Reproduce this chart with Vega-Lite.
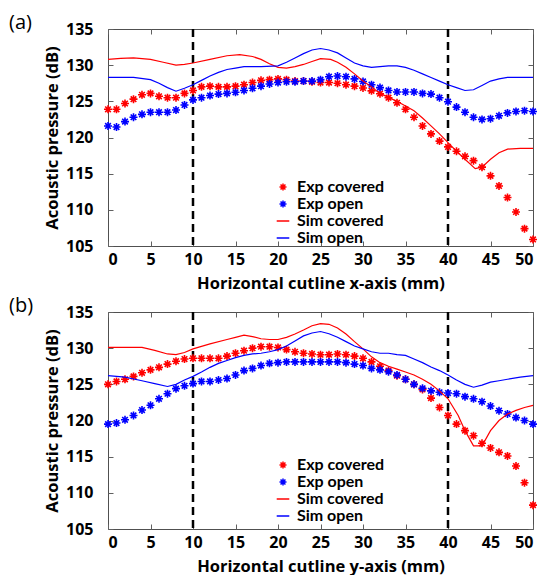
{
  "$schema": "https://vega.github.io/schema/vega-lite/v6.json",
  "background": "white",
  "padding": {"left": 8, "top": 12, "right": 6, "bottom": 0},
  "spacing": 3,
  "datasets": {
    "a_exp": [
      {"x":0,"v":123.9,"s":"Exp covered"},{"x":1,"v":123.9,"s":"Exp covered"},{"x":2,"v":124.7,"s":"Exp covered"},{"x":3,"v":125.3,"s":"Exp covered"},{"x":4,"v":125.9,"s":"Exp covered"},{"x":5,"v":126.1,"s":"Exp covered"},{"x":6,"v":125.7,"s":"Exp covered"},{"x":7,"v":125.5,"s":"Exp covered"},{"x":8,"v":125.5,"s":"Exp covered"},{"x":9,"v":126.1,"s":"Exp covered"},{"x":10,"v":126.5,"s":"Exp covered"},{"x":11,"v":127.0,"s":"Exp covered"},{"x":12,"v":127.1,"s":"Exp covered"},{"x":13,"v":127.0,"s":"Exp covered"},{"x":14,"v":127.0,"s":"Exp covered"},{"x":15,"v":127.1,"s":"Exp covered"},{"x":16,"v":127.3,"s":"Exp covered"},{"x":17,"v":127.6,"s":"Exp covered"},{"x":18,"v":127.9,"s":"Exp covered"},{"x":19,"v":128.0,"s":"Exp covered"},{"x":20,"v":128.1,"s":"Exp covered"},{"x":21,"v":128.0,"s":"Exp covered"},{"x":22,"v":127.8,"s":"Exp covered"},{"x":23,"v":127.8,"s":"Exp covered"},{"x":24,"v":127.7,"s":"Exp covered"},{"x":25,"v":127.6,"s":"Exp covered"},{"x":26,"v":127.6,"s":"Exp covered"},{"x":27,"v":127.5,"s":"Exp covered"},{"x":28,"v":127.3,"s":"Exp covered"},{"x":29,"v":127.1,"s":"Exp covered"},{"x":30,"v":126.85,"s":"Exp covered"},{"x":31,"v":126.45,"s":"Exp covered"},{"x":32,"v":126.05,"s":"Exp covered"},{"x":33,"v":125.5,"s":"Exp covered"},{"x":34,"v":124.8,"s":"Exp covered"},{"x":35,"v":123.9,"s":"Exp covered"},{"x":36,"v":122.8,"s":"Exp covered"},{"x":37,"v":121.6,"s":"Exp covered"},{"x":38,"v":120.5,"s":"Exp covered"},{"x":39,"v":119.5,"s":"Exp covered"},{"x":40,"v":118.7,"s":"Exp covered"},{"x":41,"v":118.1,"s":"Exp covered"},{"x":42,"v":117.4,"s":"Exp covered"},{"x":43,"v":116.8,"s":"Exp covered"},{"x":44,"v":115.9,"s":"Exp covered"},{"x":45,"v":114.7,"s":"Exp covered"},{"x":46,"v":113.3,"s":"Exp covered"},{"x":47,"v":111.7,"s":"Exp covered"},{"x":48,"v":109.7,"s":"Exp covered"},{"x":49,"v":107.4,"s":"Exp covered"},{"x":50,"v":105.9,"s":"Exp covered"},
      {"x":0,"v":121.6,"s":"Exp open"},{"x":1,"v":121.45,"s":"Exp open"},{"x":2,"v":122.2,"s":"Exp open"},{"x":3,"v":122.8,"s":"Exp open"},{"x":4,"v":123.2,"s":"Exp open"},{"x":5,"v":123.5,"s":"Exp open"},{"x":6,"v":123.5,"s":"Exp open"},{"x":7,"v":123.5,"s":"Exp open"},{"x":8,"v":123.8,"s":"Exp open"},{"x":9,"v":124.5,"s":"Exp open"},{"x":10,"v":125.2,"s":"Exp open"},{"x":11,"v":125.5,"s":"Exp open"},{"x":12,"v":125.8,"s":"Exp open"},{"x":13,"v":126.0,"s":"Exp open"},{"x":14,"v":126.1,"s":"Exp open"},{"x":15,"v":126.25,"s":"Exp open"},{"x":16,"v":126.5,"s":"Exp open"},{"x":17,"v":126.8,"s":"Exp open"},{"x":18,"v":127.1,"s":"Exp open"},{"x":19,"v":127.4,"s":"Exp open"},{"x":20,"v":127.6,"s":"Exp open"},{"x":21,"v":127.7,"s":"Exp open"},{"x":22,"v":127.7,"s":"Exp open"},{"x":23,"v":127.8,"s":"Exp open"},{"x":24,"v":127.8,"s":"Exp open"},{"x":25,"v":128.0,"s":"Exp open"},{"x":26,"v":128.4,"s":"Exp open"},{"x":27,"v":128.5,"s":"Exp open"},{"x":28,"v":128.4,"s":"Exp open"},{"x":29,"v":128.1,"s":"Exp open"},{"x":30,"v":127.75,"s":"Exp open"},{"x":31,"v":127.3,"s":"Exp open"},{"x":32,"v":126.9,"s":"Exp open"},{"x":33,"v":126.5,"s":"Exp open"},{"x":34,"v":126.3,"s":"Exp open"},{"x":35,"v":126.3,"s":"Exp open"},{"x":36,"v":126.3,"s":"Exp open"},{"x":37,"v":126.1,"s":"Exp open"},{"x":38,"v":126.0,"s":"Exp open"},{"x":39,"v":125.5,"s":"Exp open"},{"x":40,"v":124.95,"s":"Exp open"},{"x":41,"v":124.2,"s":"Exp open"},{"x":42,"v":123.5,"s":"Exp open"},{"x":43,"v":122.8,"s":"Exp open"},{"x":44,"v":122.5,"s":"Exp open"},{"x":45,"v":122.6,"s":"Exp open"},{"x":46,"v":123.0,"s":"Exp open"},{"x":47,"v":123.4,"s":"Exp open"},{"x":48,"v":123.6,"s":"Exp open"},{"x":49,"v":123.7,"s":"Exp open"},{"x":50,"v":123.6,"s":"Exp open"}
    ],
    "a_sim": [
      {"x":0,"v":130.8,"s":"Sim covered"},{"x":1.5,"v":130.95,"s":"Sim covered"},{"x":3,"v":131.0,"s":"Sim covered"},{"x":5,"v":130.8,"s":"Sim covered"},{"x":6.5,"v":130.4,"s":"Sim covered"},{"x":8,"v":130.0,"s":"Sim covered"},{"x":9,"v":130.1,"s":"Sim covered"},{"x":10,"v":130.3,"s":"Sim covered"},{"x":12,"v":130.8,"s":"Sim covered"},{"x":14,"v":131.3,"s":"Sim covered"},{"x":15.5,"v":131.45,"s":"Sim covered"},{"x":17,"v":131.2,"s":"Sim covered"},{"x":18,"v":130.8,"s":"Sim covered"},{"x":19,"v":130.2,"s":"Sim covered"},{"x":20,"v":129.7,"s":"Sim covered"},{"x":21,"v":129.6,"s":"Sim covered"},{"x":22,"v":129.8,"s":"Sim covered"},{"x":23,"v":130.1,"s":"Sim covered"},{"x":24,"v":130.5,"s":"Sim covered"},{"x":25,"v":130.9,"s":"Sim covered"},{"x":26.2,"v":130.8,"s":"Sim covered"},{"x":27,"v":130.4,"s":"Sim covered"},{"x":28,"v":129.7,"s":"Sim covered"},{"x":29,"v":128.8,"s":"Sim covered"},{"x":30,"v":127.8,"s":"Sim covered"},{"x":31,"v":127.0,"s":"Sim covered"},{"x":32,"v":126.1,"s":"Sim covered"},{"x":34,"v":125.0,"s":"Sim covered"},{"x":36,"v":123.7,"s":"Sim covered"},{"x":37,"v":122.7,"s":"Sim covered"},{"x":38,"v":121.6,"s":"Sim covered"},{"x":39,"v":120.5,"s":"Sim covered"},{"x":40,"v":119.3,"s":"Sim covered"},{"x":41,"v":118.1,"s":"Sim covered"},{"x":42,"v":117.0,"s":"Sim covered"},{"x":43.2,"v":115.7,"s":"Sim covered"},{"x":44,"v":115.9,"s":"Sim covered"},{"x":45,"v":117.0,"s":"Sim covered"},{"x":46,"v":117.9,"s":"Sim covered"},{"x":47,"v":118.4,"s":"Sim covered"},{"x":48.5,"v":118.5,"s":"Sim covered"},{"x":50,"v":118.5,"s":"Sim covered"},
      {"x":0,"v":128.3,"s":"Sim open"},{"x":3,"v":128.3,"s":"Sim open"},{"x":5,"v":128.0,"s":"Sim open"},{"x":6,"v":127.5,"s":"Sim open"},{"x":7,"v":126.9,"s":"Sim open"},{"x":8,"v":126.4,"s":"Sim open"},{"x":9,"v":126.8,"s":"Sim open"},{"x":10,"v":127.3,"s":"Sim open"},{"x":11,"v":127.9,"s":"Sim open"},{"x":12,"v":128.5,"s":"Sim open"},{"x":13,"v":129.0,"s":"Sim open"},{"x":14,"v":129.4,"s":"Sim open"},{"x":15,"v":129.6,"s":"Sim open"},{"x":16,"v":129.8,"s":"Sim open"},{"x":18,"v":129.8,"s":"Sim open"},{"x":20,"v":129.9,"s":"Sim open"},{"x":21,"v":130.4,"s":"Sim open"},{"x":22,"v":131.0,"s":"Sim open"},{"x":23,"v":131.6,"s":"Sim open"},{"x":24,"v":132.1,"s":"Sim open"},{"x":25,"v":132.3,"s":"Sim open"},{"x":26,"v":132.1,"s":"Sim open"},{"x":27,"v":131.7,"s":"Sim open"},{"x":28,"v":131.0,"s":"Sim open"},{"x":29,"v":130.3,"s":"Sim open"},{"x":30,"v":129.9,"s":"Sim open"},{"x":31,"v":129.7,"s":"Sim open"},{"x":32,"v":129.8,"s":"Sim open"},{"x":33,"v":129.9,"s":"Sim open"},{"x":34,"v":129.9,"s":"Sim open"},{"x":35,"v":129.7,"s":"Sim open"},{"x":36,"v":129.3,"s":"Sim open"},{"x":37,"v":128.8,"s":"Sim open"},{"x":38,"v":128.3,"s":"Sim open"},{"x":39,"v":127.8,"s":"Sim open"},{"x":40,"v":127.3,"s":"Sim open"},{"x":41,"v":126.9,"s":"Sim open"},{"x":42,"v":126.5,"s":"Sim open"},{"x":43,"v":126.6,"s":"Sim open"},{"x":44,"v":127.2,"s":"Sim open"},{"x":45,"v":127.8,"s":"Sim open"},{"x":46,"v":128.1,"s":"Sim open"},{"x":47,"v":128.3,"s":"Sim open"},{"x":50,"v":128.3,"s":"Sim open"}
    ],
    "b_exp": [
      {"x":0,"v":125.0,"s":"Exp covered"},{"x":1,"v":125.4,"s":"Exp covered"},{"x":2,"v":125.7,"s":"Exp covered"},{"x":3,"v":126.1,"s":"Exp covered"},{"x":4,"v":126.6,"s":"Exp covered"},{"x":5,"v":127.0,"s":"Exp covered"},{"x":6,"v":127.35,"s":"Exp covered"},{"x":7,"v":127.8,"s":"Exp covered"},{"x":8,"v":128.2,"s":"Exp covered"},{"x":9,"v":128.5,"s":"Exp covered"},{"x":10,"v":128.6,"s":"Exp covered"},{"x":11,"v":128.6,"s":"Exp covered"},{"x":12,"v":128.6,"s":"Exp covered"},{"x":13,"v":128.6,"s":"Exp covered"},{"x":14,"v":128.9,"s":"Exp covered"},{"x":15,"v":129.3,"s":"Exp covered"},{"x":16,"v":129.65,"s":"Exp covered"},{"x":17,"v":130.0,"s":"Exp covered"},{"x":18,"v":130.2,"s":"Exp covered"},{"x":19,"v":130.2,"s":"Exp covered"},{"x":20,"v":130.1,"s":"Exp covered"},{"x":21,"v":129.8,"s":"Exp covered"},{"x":22,"v":129.5,"s":"Exp covered"},{"x":23,"v":129.3,"s":"Exp covered"},{"x":24,"v":129.2,"s":"Exp covered"},{"x":25,"v":129.1,"s":"Exp covered"},{"x":26,"v":129.1,"s":"Exp covered"},{"x":27,"v":129.2,"s":"Exp covered"},{"x":28,"v":129.1,"s":"Exp covered"},{"x":29,"v":128.9,"s":"Exp covered"},{"x":30,"v":128.6,"s":"Exp covered"},{"x":31,"v":128.1,"s":"Exp covered"},{"x":32,"v":127.5,"s":"Exp covered"},{"x":33,"v":126.9,"s":"Exp covered"},{"x":34,"v":126.2,"s":"Exp covered"},{"x":35,"v":125.7,"s":"Exp covered"},{"x":36,"v":125.0,"s":"Exp covered"},{"x":37,"v":124.3,"s":"Exp covered"},{"x":38,"v":123.1,"s":"Exp covered"},{"x":39,"v":121.8,"s":"Exp covered"},{"x":40,"v":120.7,"s":"Exp covered"},{"x":41,"v":119.5,"s":"Exp covered"},{"x":42,"v":118.6,"s":"Exp covered"},{"x":43,"v":117.9,"s":"Exp covered"},{"x":44,"v":116.85,"s":"Exp covered"},{"x":45,"v":116.2,"s":"Exp covered"},{"x":46,"v":115.6,"s":"Exp covered"},{"x":47,"v":115.1,"s":"Exp covered"},{"x":48,"v":113.7,"s":"Exp covered"},{"x":49,"v":111.4,"s":"Exp covered"},{"x":50,"v":108.3,"s":"Exp covered"},
      {"x":0,"v":119.5,"s":"Exp open"},{"x":1,"v":119.65,"s":"Exp open"},{"x":2,"v":120.1,"s":"Exp open"},{"x":3,"v":120.7,"s":"Exp open"},{"x":4,"v":121.45,"s":"Exp open"},{"x":5,"v":122.1,"s":"Exp open"},{"x":6,"v":123.0,"s":"Exp open"},{"x":7,"v":123.7,"s":"Exp open"},{"x":8,"v":124.4,"s":"Exp open"},{"x":9,"v":124.8,"s":"Exp open"},{"x":10,"v":125.1,"s":"Exp open"},{"x":11,"v":125.4,"s":"Exp open"},{"x":12,"v":125.4,"s":"Exp open"},{"x":13,"v":125.6,"s":"Exp open"},{"x":14,"v":125.8,"s":"Exp open"},{"x":15,"v":126.3,"s":"Exp open"},{"x":16,"v":126.9,"s":"Exp open"},{"x":17,"v":127.2,"s":"Exp open"},{"x":18,"v":127.6,"s":"Exp open"},{"x":19,"v":127.9,"s":"Exp open"},{"x":20,"v":128.0,"s":"Exp open"},{"x":21,"v":128.1,"s":"Exp open"},{"x":22,"v":128.1,"s":"Exp open"},{"x":23,"v":128.1,"s":"Exp open"},{"x":24,"v":128.1,"s":"Exp open"},{"x":25,"v":128.1,"s":"Exp open"},{"x":26,"v":128.1,"s":"Exp open"},{"x":27,"v":128.1,"s":"Exp open"},{"x":28,"v":128.0,"s":"Exp open"},{"x":29,"v":127.8,"s":"Exp open"},{"x":30,"v":127.6,"s":"Exp open"},{"x":31,"v":127.2,"s":"Exp open"},{"x":32,"v":127.0,"s":"Exp open"},{"x":33,"v":126.75,"s":"Exp open"},{"x":34,"v":126.3,"s":"Exp open"},{"x":35,"v":125.7,"s":"Exp open"},{"x":36,"v":125.0,"s":"Exp open"},{"x":37,"v":124.45,"s":"Exp open"},{"x":38,"v":124.1,"s":"Exp open"},{"x":39,"v":123.9,"s":"Exp open"},{"x":40,"v":123.8,"s":"Exp open"},{"x":41,"v":123.7,"s":"Exp open"},{"x":42,"v":123.3,"s":"Exp open"},{"x":43,"v":123.0,"s":"Exp open"},{"x":44,"v":122.6,"s":"Exp open"},{"x":45,"v":122.0,"s":"Exp open"},{"x":46,"v":121.35,"s":"Exp open"},{"x":47,"v":120.9,"s":"Exp open"},{"x":48,"v":120.4,"s":"Exp open"},{"x":49,"v":120.0,"s":"Exp open"},{"x":50,"v":119.5,"s":"Exp open"}
    ],
    "b_sim": [
      {"x":0,"v":130.1,"s":"Sim covered"},{"x":4,"v":130.1,"s":"Sim covered"},{"x":5.5,"v":129.7,"s":"Sim covered"},{"x":7,"v":129.2,"s":"Sim covered"},{"x":8,"v":129.1,"s":"Sim covered"},{"x":9,"v":129.4,"s":"Sim covered"},{"x":10,"v":129.9,"s":"Sim covered"},{"x":12,"v":130.6,"s":"Sim covered"},{"x":14,"v":131.2,"s":"Sim covered"},{"x":15,"v":131.5,"s":"Sim covered"},{"x":16,"v":131.8,"s":"Sim covered"},{"x":17,"v":131.6,"s":"Sim covered"},{"x":18,"v":131.3,"s":"Sim covered"},{"x":19,"v":131.2,"s":"Sim covered"},{"x":20,"v":131.2,"s":"Sim covered"},{"x":21,"v":131.5,"s":"Sim covered"},{"x":22,"v":131.95,"s":"Sim covered"},{"x":23,"v":132.5,"s":"Sim covered"},{"x":24,"v":133.1,"s":"Sim covered"},{"x":25,"v":133.4,"s":"Sim covered"},{"x":26,"v":133.3,"s":"Sim covered"},{"x":27,"v":132.8,"s":"Sim covered"},{"x":28,"v":131.95,"s":"Sim covered"},{"x":29,"v":130.9,"s":"Sim covered"},{"x":30,"v":129.9,"s":"Sim covered"},{"x":31,"v":128.8,"s":"Sim covered"},{"x":32,"v":128.0,"s":"Sim covered"},{"x":33,"v":127.5,"s":"Sim covered"},{"x":34,"v":127.1,"s":"Sim covered"},{"x":35,"v":126.7,"s":"Sim covered"},{"x":36,"v":126.3,"s":"Sim covered"},{"x":37,"v":125.7,"s":"Sim covered"},{"x":38,"v":125.0,"s":"Sim covered"},{"x":39,"v":124.1,"s":"Sim covered"},{"x":40,"v":123.0,"s":"Sim covered"},{"x":41.2,"v":120.7,"s":"Sim covered"},{"x":42,"v":118.6,"s":"Sim covered"},{"x":43,"v":116.5,"s":"Sim covered"},{"x":44,"v":116.5,"s":"Sim covered"},{"x":45,"v":118.6,"s":"Sim covered"},{"x":46,"v":120.0,"s":"Sim covered"},{"x":47,"v":120.9,"s":"Sim covered"},{"x":48,"v":121.4,"s":"Sim covered"},{"x":49,"v":121.8,"s":"Sim covered"},{"x":50,"v":122.1,"s":"Sim covered"},
      {"x":0,"v":126.2,"s":"Sim open"},{"x":2,"v":126.0,"s":"Sim open"},{"x":4,"v":125.5,"s":"Sim open"},{"x":5.5,"v":125.1,"s":"Sim open"},{"x":7,"v":124.7,"s":"Sim open"},{"x":8,"v":125.0,"s":"Sim open"},{"x":9,"v":125.6,"s":"Sim open"},{"x":10,"v":126.1,"s":"Sim open"},{"x":11,"v":126.7,"s":"Sim open"},{"x":12,"v":127.35,"s":"Sim open"},{"x":13,"v":127.9,"s":"Sim open"},{"x":14,"v":128.3,"s":"Sim open"},{"x":15,"v":128.7,"s":"Sim open"},{"x":16,"v":129.0,"s":"Sim open"},{"x":17,"v":129.2,"s":"Sim open"},{"x":18,"v":129.3,"s":"Sim open"},{"x":19,"v":129.5,"s":"Sim open"},{"x":20,"v":129.8,"s":"Sim open"},{"x":21,"v":130.3,"s":"Sim open"},{"x":22,"v":131.0,"s":"Sim open"},{"x":23,"v":131.7,"s":"Sim open"},{"x":24,"v":132.1,"s":"Sim open"},{"x":25,"v":132.3,"s":"Sim open"},{"x":26,"v":132.0,"s":"Sim open"},{"x":27,"v":131.5,"s":"Sim open"},{"x":28,"v":130.9,"s":"Sim open"},{"x":29,"v":130.3,"s":"Sim open"},{"x":30,"v":129.9,"s":"Sim open"},{"x":31,"v":129.5,"s":"Sim open"},{"x":32,"v":129.3,"s":"Sim open"},{"x":33,"v":129.3,"s":"Sim open"},{"x":34,"v":129.1,"s":"Sim open"},{"x":35,"v":129.0,"s":"Sim open"},{"x":36,"v":128.5,"s":"Sim open"},{"x":37,"v":128.0,"s":"Sim open"},{"x":38,"v":127.4,"s":"Sim open"},{"x":39,"v":126.9,"s":"Sim open"},{"x":40,"v":126.3,"s":"Sim open"},{"x":41,"v":125.6,"s":"Sim open"},{"x":42,"v":125.0,"s":"Sim open"},{"x":43,"v":124.6,"s":"Sim open"},{"x":44,"v":124.9,"s":"Sim open"},{"x":45,"v":125.3,"s":"Sim open"},{"x":46,"v":125.5,"s":"Sim open"},{"x":47,"v":125.7,"s":"Sim open"},{"x":48.5,"v":126.0,"s":"Sim open"},{"x":50,"v":126.2,"s":"Sim open"}
    ],
    "guides": [{"x":10},{"x":40}]
  },
  "config": {
    "font": "Open Sans",
    "view": {"stroke": "#505050", "strokeWidth": 1},
    "axis": {
      "grid": false, "domain": false, "tickColor": "#606060", "tickSize": -5, "tickWidth": 1,
      "labelFont": "Open Sans", "labelFontSize": 16, "labelFontWeight": "bold", "labelColor": "black",
      "titleFont": "Open Sans", "titleFontSize": 16.5, "titleFontWeight": "bold", "titleColor": "black"
    },
    "axisX": {"labelPadding": 10, "titlePadding": 8},
    "axisY": {"labelPadding": 20, "titlePadding": 5},
    "legend": {
      "orient": "none", "padding": 0, "labelFont": "Lato", "labelFontSize": 16, "labelFontWeight": "bold", "labelColor": "black",
      "symbolSize": 49, "symbolStrokeWidth": 1.5, "rowPadding": 1, "labelOffset": 6, "titlePadding": 0
    },
    "title": {"font": "Open Sans", "fontSize": 20, "fontWeight": "normal", "color": "black", "anchor": "start", "frame": "group"}
  },
  "resolve": {"scale": {"color": "independent", "shape": "independent"}, "legend": {"color": "independent", "shape": "independent"}},
  "vconcat": [
    {
      "width": 425, "height": 217,
      "title": {"text": "(a)", "dx": -99, "offset": -12},
      "resolve": {"axis": {"x": "independent", "y": "independent"}},
      "layer": [
        {"data": {"name": "guides"}, "mark": {"type": "rule", "color": "black", "strokeWidth": 2.5, "strokeDash": [8, 5]},
         "encoding": {"x": {"field": "x", "type": "quantitative", "scale": {"domain": [0, 50], "nice": false}, "axis": null}}},
        {"data": {"name": "a_exp"}, "mark": {"type": "point", "filled": false, "strokeWidth": 1.6, "size": 64, "opacity": 1},
         "encoding": {
           "x": {"field": "x", "type": "quantitative", "scale": {"domain": [0, 50], "nice": false}, "axis": {"values": [0,5,10,15,20,25,30,35,40,45,50], "title": "Horizontal cutline x-axis (mm)"}},
           "y": {"field": "v", "type": "quantitative", "scale": {"domain": [105, 135], "nice": false, "zero": false}, "axis": {"values": [105,110,115,120,125,130,135], "title": "Acoustic pressure (dB)"}},
           "color": {"field": "s", "type": "nominal", "scale": {"domain": ["Exp covered","Exp open","Sim covered","Sim open"], "range": ["#ff0000","#0000ff","#ff0000","#0000ff"]}, "legend": {"title": null, "legendX": 167, "legendY": 150}},
           "shape": {"field": "s", "type": "nominal", "scale": {"domain": ["Exp covered","Exp open","Sim covered","Sim open"], "range": ["M-1,0L1,0M0,-1L0,1M-0.7,-0.7L0.7,0.7M-0.7,0.7L0.7,-0.7","M-1,0L1,0M0,-1L0,1M-0.7,-0.7L0.7,0.7M-0.7,0.7L0.7,-0.7","M-1.8,0L1.8,0","M-1.8,0L1.8,0"]}, "legend": {"title": null, "legendX": 167, "legendY": 150}}
         }},
        {"data": {"name": "a_sim"}, "mark": {"type": "line", "strokeWidth": 1.2},
         "encoding": {
           "x": {"field": "x", "type": "quantitative", "scale": {"domain": [0, 50], "nice": false}, "axis": {"orient": "top", "values": [0,5,10,15,20,25,30,35,40,45,50], "labels": false, "title": null}},
           "y": {"field": "v", "type": "quantitative", "scale": {"domain": [105, 135], "nice": false, "zero": false}, "axis": {"orient": "right", "values": [105,110,115,120,125,130,135], "labels": false, "title": null}},
           "color": {"field": "s", "type": "nominal", "scale": {"domain": ["Exp covered","Exp open","Sim covered","Sim open"], "range": ["#ff0000","#0000ff","#ff0000","#0000ff"]}, "legend": {"title": null, "legendX": 167, "legendY": 150}}
         }}
      ]
    },
    {
      "width": 425, "height": 217,
      "title": {"text": "(b)", "dx": -99, "offset": -12},
      "resolve": {"axis": {"x": "independent", "y": "independent"}},
      "layer": [
        {"data": {"name": "guides"}, "mark": {"type": "rule", "color": "black", "strokeWidth": 2.5, "strokeDash": [8, 5]},
         "encoding": {"x": {"field": "x", "type": "quantitative", "scale": {"domain": [0, 50], "nice": false}, "axis": null}}},
        {"data": {"name": "b_exp"}, "mark": {"type": "point", "filled": false, "strokeWidth": 1.6, "size": 64, "opacity": 1},
         "encoding": {
           "x": {"field": "x", "type": "quantitative", "scale": {"domain": [0, 50], "nice": false}, "axis": {"values": [0,5,10,15,20,25,30,35,40,45,50], "title": "Horizontal cutline y-axis (mm)"}},
           "y": {"field": "v", "type": "quantitative", "scale": {"domain": [105, 135], "nice": false, "zero": false}, "axis": {"values": [105,110,115,120,125,130,135], "title": "Acoustic pressure (dB)"}},
           "color": {"field": "s", "type": "nominal", "scale": {"domain": ["Exp covered","Exp open","Sim covered","Sim open"], "range": ["#ff0000","#0000ff","#ff0000","#0000ff"]}, "legend": {"title": null, "legendX": 167, "legendY": 145}},
           "shape": {"field": "s", "type": "nominal", "scale": {"domain": ["Exp covered","Exp open","Sim covered","Sim open"], "range": ["M-1,0L1,0M0,-1L0,1M-0.7,-0.7L0.7,0.7M-0.7,0.7L0.7,-0.7","M-1,0L1,0M0,-1L0,1M-0.7,-0.7L0.7,0.7M-0.7,0.7L0.7,-0.7","M-1.8,0L1.8,0","M-1.8,0L1.8,0"]}, "legend": {"title": null, "legendX": 167, "legendY": 145}}
         }},
        {"data": {"name": "b_sim"}, "mark": {"type": "line", "strokeWidth": 1.2},
         "encoding": {
           "x": {"field": "x", "type": "quantitative", "scale": {"domain": [0, 50], "nice": false}, "axis": {"orient": "top", "values": [0,5,10,15,20,25,30,35,40,45,50], "labels": false, "title": null}},
           "y": {"field": "v", "type": "quantitative", "scale": {"domain": [105, 135], "nice": false, "zero": false}, "axis": {"orient": "right", "values": [105,110,115,120,125,130,135], "labels": false, "title": null}},
           "color": {"field": "s", "type": "nominal", "scale": {"domain": ["Exp covered","Exp open","Sim covered","Sim open"], "range": ["#ff0000","#0000ff","#ff0000","#0000ff"]}, "legend": {"title": null, "legendX": 167, "legendY": 145}}
         }}
      ]
    }
  ]
}
